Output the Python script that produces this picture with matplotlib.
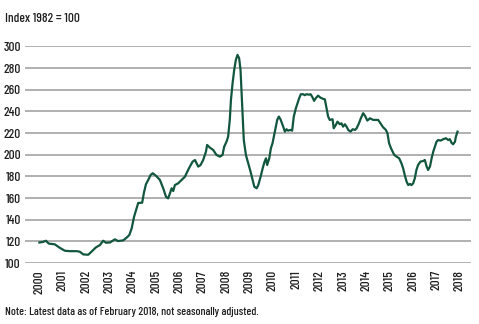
import matplotlib.pyplot as plt

# -------------------------
# Data
# -------------------------

years = [
    2000.0, 2000.15, 2000.28, 2000.4, 2000.66, 2000.88, 2001.09, 2001.3, 2001.6, 2001.73,
    2001.88, 2002.09, 2002.23, 2002.42, 2002.59, 2002.73, 2002.85, 2003.02, 2003.23, 2003.37,
    2003.59, 2003.73, 2003.85, 2003.95, 2004.05, 2004.16, 2004.23, 2004.4, 2004.47, 2004.56,
    2004.66, 2004.76, 2004.85, 2004.99, 2005.16, 2005.3, 2005.42, 2005.51, 2005.59, 2005.66,
    2005.73, 2005.8, 2005.94, 2006.09, 2006.23, 2006.33, 2006.44, 2006.56, 2006.66, 2006.73,
    2006.8, 2006.9, 2007.01, 2007.13, 2007.18, 2007.3, 2007.44, 2007.58, 2007.73, 2007.84,
    2007.91, 2008.01, 2008.08, 2008.15, 2008.2, 2008.27, 2008.34, 2008.41, 2008.48, 2008.55,
    2008.61, 2008.65, 2008.7, 2008.75, 2008.84, 2008.94, 2009.04, 2009.13, 2009.2, 2009.3,
    2009.37, 2009.47, 2009.56, 2009.63, 2009.7, 2009.75, 2009.84, 2009.91, 2009.98, 2010.05,
    2010.12, 2010.18, 2010.25, 2010.32, 2010.41, 2010.51, 2010.58, 2010.65, 2010.75, 2010.82,
    2010.89, 2010.98, 2011.05, 2011.12, 2011.19, 2011.29, 2011.36, 2011.43, 2011.55, 2011.61,
    2011.69, 2011.76, 2011.83, 2011.93, 2012.03, 2012.15, 2012.22, 2012.29, 2012.36, 2012.43,
    2012.55, 2012.6, 2012.69, 2012.76, 2012.86, 2012.93, 2013.0, 2013.08, 2013.15, 2013.22,
    2013.32, 2013.41, 2013.51, 2013.58, 2013.68, 2013.76, 2013.86, 2013.94, 2014.04, 2014.15,
    2014.29, 2014.4, 2014.5, 2014.6, 2014.71, 2014.83, 2014.9, 2014.97, 2015.05, 2015.12,
    2015.19, 2015.29, 2015.4, 2015.5, 2015.57, 2015.64, 2015.72, 2015.79, 2015.86, 2015.93,
    2016.0, 2016.07, 2016.14, 2016.21, 2016.31, 2016.43, 2016.5, 2016.57, 2016.64, 2016.72,
    2016.79, 2016.86, 2016.93, 2017.0, 2017.07, 2017.17, 2017.29, 2017.4, 2017.5, 2017.57,
    2017.64, 2017.71, 2017.79, 2017.83, 2017.9,
]

index = [
    119, 119.5, 120.6, 118, 117.3, 114, 111.4, 111, 111, 110.5,
    108, 107.7, 110.5, 114.5, 116.6, 120.6, 118.8, 119, 121.9, 120.3,
    121, 123.4, 125.9, 132, 142.5, 150.5, 155.5, 155.7, 164.4, 172.7,
    176.7, 181.3, 182.9, 180.6, 176.7, 169, 161.2, 159.7, 164.4, 169,
    166.5, 172, 173.6, 176.7, 179.7, 184.3, 189, 193.6, 195.1, 192,
    189, 190.5, 195.1, 202.8, 209, 206.5, 204.4, 199.8, 198.2, 199.8,
    207.4, 212, 216.7, 232.1, 250.6, 266, 278.3, 287.5, 292.1, 289.1,
    278.3, 260, 235.2, 213.6, 199.8, 192, 184.3, 176.7, 170.5, 169,
    172, 179.7, 187.5, 193, 196.7, 190.5, 196.7, 206, 210.6, 218.2,
    225.9, 232.1, 235.2, 232.7, 227.5, 221.3, 223.5, 222.2, 222.9, 222.2,
    235.2, 242.9, 247.5, 252.1, 255.8, 255.8, 254.9, 255.8, 255.4, 255.8,
    253, 249.7, 252.1, 254.5, 252.7, 251.5, 251.1, 242.9, 235.2, 232.1,
    232.7, 224.4, 227.5, 230.5, 228.1, 229, 225.9, 228.1, 225.9, 222.9,
    221.3, 223.5, 222.9, 224.4, 229, 233.6, 238.3, 235.8, 231.5, 233.6,
    232.1, 232.1, 232.1, 229, 225.4, 222.9, 219.8, 210.6, 206, 202.8,
    199.8, 198.2, 196.7, 192, 187.5, 181.3, 175.1, 172, 173, 172,
    173.6, 178.2, 185.9, 190.5, 193.6, 194.2, 195.1, 189.6, 185.9, 189,
    196.7, 202.8, 207.4, 212, 213.6, 213, 214.3, 215.2, 213.6, 214.3,
    211.1, 209.6, 212, 216.7, 221.3,
]

year_ticks = list(range(2000, 2019))
y_ticks = list(range(100, 301, 20))

# -------------------------
# Plot
# -------------------------

plt.rcParams["font.family"] = ["Barlow Condensed", "DejaVu Sans"]
plt.rcParams["font.weight"] = 500

fig = plt.figure(figsize=(4.79, 3.24), dpi=100)
ax = fig.add_axes([0.052, 0.188, 0.931, 0.669])

ax.plot(years, index, color="#12573d", linewidth=1.6, zorder=3)

ax.set_xlim(1999.38, 2018.47)
ax.set_ylim(100, 300)

ax.set_yticks(y_ticks)
ax.set_xticks(year_ticks)
ax.set_xticklabels([str(y) for y in year_ticks])

ax.grid(axis="y", color="#a3a3a3", linewidth=1.2)
ax.set_axisbelow(True)

for s in ax.spines.values():
    s.set_visible(False)

ax.tick_params(axis="both", length=0, labelsize=9.5, colors="#1e1e1e")
ax.tick_params(axis="y", pad=3)
ax.tick_params(axis="x", pad=5, labelrotation=90)

fig.text(0.011, 0.941, "Index 1982 = 100", fontsize=9.5, color="#1e1e1e", va="center")
fig.text(0.011, 0.036, "Note: Latest data as of February 2018, not seasonally adjusted.",
         fontsize=8.4, color="#1e1e1e", va="center")

plt.savefig("out.png", dpi=100)
